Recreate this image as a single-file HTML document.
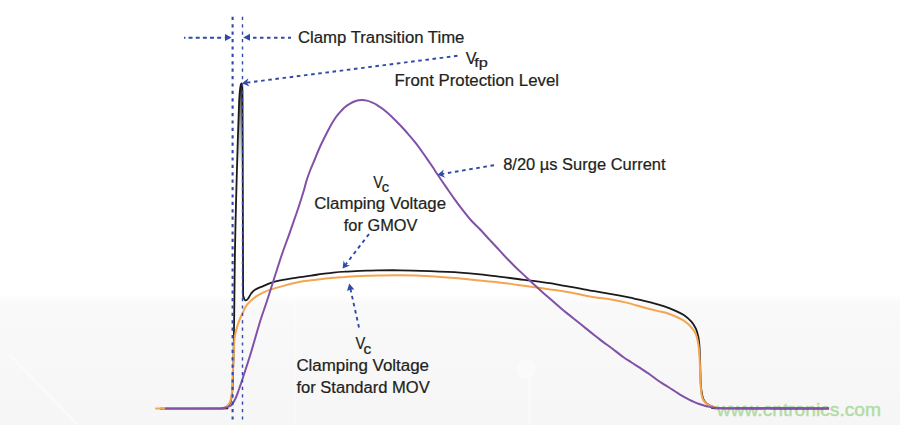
<!DOCTYPE html>
<html><head><meta charset="utf-8"><style>
html,body{margin:0;padding:0;background:#fff;}
body{width:900px;height:425px;overflow:hidden;}
svg{display:block;font-family:"Liberation Sans",sans-serif;}
</style></head><body>
<svg width="900" height="425" viewBox="0 0 900 425">
<defs><linearGradient id="bg" x1="0" y1="0" x2="0" y2="1"><stop offset="0" stop-color="#ffffff"/><stop offset="0.07" stop-color="#f9f9f9"/><stop offset="1" stop-color="#f6f6f6"/></linearGradient></defs>
<rect x="0" y="0" width="900" height="425" fill="#fff"/>
<rect x="0" y="295" width="900" height="130" fill="url(#bg)"/>
<g stroke="#ffffff" stroke-opacity="0.6" fill="none">
<line x1="9" y1="354" x2="78" y2="425" stroke-width="1.5"/>
<circle cx="526" cy="369" r="10" fill="#fafafa" stroke="none"/>
<line x1="529.5" y1="378" x2="529.5" y2="425" stroke-width="1.5"/>
<line x1="295" y1="300" x2="295" y2="425" stroke-width="1"/>
</g>
<text x="716.8" y="416.2" font-size="19.2" fill="#b2dca4" stroke="#b2dca4" stroke-width="0.45" textLength="164.2" lengthAdjust="spacingAndGlyphs">www.cntronics.com</text>
<defs><linearGradient id="spk" gradientUnits="userSpaceOnUse" x1="0" y1="84" x2="0" y2="170"><stop offset="0" stop-color="#222" stop-opacity="0.9"/><stop offset="1" stop-color="#666" stop-opacity="0"/></linearGradient></defs>
<path d="M234.9,255 L236.1,200 L237.8,140 L239.1,102 L240.2,88 L241.3,83.4 L242.1,85.5 L242.5,96 L242.7,150 L242.9,230 Z" fill="url(#spk)"/>
<path d="M160.0,408.6 C170.3,408.6 211.2,408.6 222.0,408.5 C232.8,408.4 224.0,408.4 225.0,408.0 C226.0,407.6 227.1,406.9 228.0,406.0 C228.9,405.1 229.7,403.9 230.3,402.5 C230.9,401.1 231.2,399.4 231.5,397.5 C231.8,395.6 232.1,393.9 232.3,391.0 C232.5,388.1 232.6,385.2 232.8,380.0 C233.0,374.8 233.2,366.3 233.4,360.0 C233.6,353.7 233.7,349.5 233.8,342.0 C233.9,334.5 234.0,329.5 234.2,315.0 C234.4,300.5 234.6,274.2 234.9,255.0 C235.2,235.8 235.6,219.2 236.1,200.0 C236.6,180.8 237.3,156.3 237.8,140.0 C238.3,123.7 238.7,110.7 239.1,102.0 C239.5,93.3 239.8,91.1 240.2,88.0 C240.6,84.9 241.0,84.0 241.3,83.6 C241.6,83.2 241.9,83.4 242.1,85.5 C242.3,87.6 242.4,85.2 242.5,96.0 C242.6,106.8 242.6,127.7 242.7,150.0 C242.8,172.3 242.8,206.7 242.9,230.0 C243.0,253.3 243.0,278.8 243.1,290.0 C243.2,301.2 243.2,295.3 243.6,297.0 C244.0,298.7 244.6,300.0 245.3,300.3 C246.0,300.6 247.1,299.9 248.0,298.8 C248.9,297.7 249.8,295.2 251.0,293.7 C252.2,292.2 253.0,291.0 255.0,289.7 C257.0,288.4 260.4,287.3 263.2,286.1 C266.0,284.9 268.2,283.7 271.7,282.6 C275.2,281.5 279.7,280.6 284.4,279.7 C289.1,278.8 295.6,277.9 300.0,277.2 C304.4,276.5 307.4,276.2 311.1,275.6 C314.8,275.1 318.5,274.4 322.2,273.9 C325.9,273.4 329.6,273.0 333.3,272.6 C337.0,272.2 340.7,271.9 344.4,271.7 C348.1,271.4 351.9,271.3 355.6,271.1 C359.3,270.9 363.0,270.8 366.7,270.7 C370.4,270.6 372.2,270.5 377.8,270.4 C383.4,270.3 391.3,270.2 400.0,270.3 C408.7,270.4 420.0,270.8 430.0,271.2 C440.0,271.6 451.7,272.1 460.0,272.6 C468.3,273.1 473.5,273.6 480.0,274.3 C486.5,275.0 492.5,275.8 498.8,276.6 C505.1,277.4 512.4,278.3 517.7,279.0 C523.0,279.7 525.4,279.9 530.8,280.6 C536.2,281.3 544.9,282.4 550.0,283.2 C555.1,284.0 556.8,284.5 561.5,285.3 C566.2,286.1 572.5,287.2 578.0,288.2 C583.5,289.2 589.1,290.3 594.4,291.2 C599.7,292.1 604.6,292.9 610.0,293.8 C615.4,294.7 621.0,295.7 626.5,296.8 C632.0,297.9 637.5,299.3 643.0,300.6 C648.5,301.9 655.7,303.8 659.4,304.8 C663.1,305.8 662.5,305.7 665.0,306.6 C667.5,307.5 671.3,309.0 674.4,310.4 C677.5,311.8 681.0,313.2 683.8,315.1 C686.6,317.0 689.3,319.4 691.4,321.7 C693.5,324.0 694.9,326.5 696.1,329.2 C697.3,331.9 697.9,334.7 698.5,337.7 C699.1,340.7 699.2,342.4 699.5,347.0 C699.8,351.6 700.0,358.8 700.2,365.0 C700.4,371.2 700.5,379.2 700.8,384.0 C701.1,388.8 701.4,390.9 701.9,393.5 C702.4,396.1 702.7,397.8 703.5,399.4 C704.3,401.0 705.3,402.3 706.5,403.4 C707.7,404.5 709.1,405.2 710.5,405.9 C711.9,406.6 713.1,407.0 715.0,407.4 C716.9,407.8 703.0,408.1 722.0,408.3 C741.0,408.5 811.2,408.6 829.0,408.6" fill="none" stroke="#1a1a1a" stroke-width="1.8" stroke-linejoin="round"/>
<path d="M155.3,408.4 C165.2,408.4 203.4,408.5 215.0,408.4 C226.6,408.2 222.7,408.0 224.8,407.5 C226.9,407.0 226.9,406.1 227.8,405.2 C228.7,404.3 229.5,403.2 230.1,401.9 C230.7,400.6 230.9,399.1 231.2,397.3 C231.5,395.5 231.8,394.2 232.0,391.3 C232.2,388.4 232.3,385.2 232.5,380.0 C232.7,374.8 233.1,366.3 233.4,360.0 C233.7,353.7 233.8,346.9 234.2,342.4 C234.5,337.9 234.9,335.8 235.5,333.0 C236.1,330.2 236.8,327.9 237.6,325.4 C238.4,322.9 239.4,320.1 240.3,318.0 C241.2,315.9 241.9,314.5 242.8,312.7 C243.7,310.9 244.7,308.4 245.5,307.0 C246.3,305.6 246.5,305.4 247.5,304.2 C248.5,303.0 250.2,301.3 251.7,300.0 C253.1,298.7 254.3,297.5 256.2,296.3 C258.1,295.1 260.6,293.7 263.0,292.6 C265.4,291.5 266.7,290.8 270.3,289.6 C273.9,288.4 279.4,286.9 284.4,285.6 C289.3,284.3 295.6,282.7 300.0,281.8 C304.4,280.9 307.4,280.8 311.1,280.3 C314.8,279.8 318.5,279.3 322.2,278.9 C325.9,278.5 329.6,278.1 333.3,277.8 C337.0,277.5 340.7,277.1 344.4,276.9 C348.1,276.6 351.9,276.5 355.6,276.3 C359.3,276.1 363.0,275.9 366.7,275.8 C370.4,275.7 372.2,275.6 377.8,275.5 C383.4,275.4 391.3,275.2 400.0,275.3 C408.7,275.4 420.0,275.7 430.0,276.2 C440.0,276.7 451.7,277.8 460.0,278.5 C468.3,279.2 473.5,280.0 480.0,280.6 C486.5,281.2 492.5,281.7 498.8,282.4 C505.1,283.1 511.4,284.0 517.7,284.9 C524.0,285.8 531.1,286.8 536.5,287.5 C541.9,288.2 545.8,288.8 550.0,289.4 C554.2,290.0 556.8,290.1 561.5,290.9 C566.2,291.7 572.5,292.9 578.0,294.0 C583.5,295.1 589.1,296.4 594.4,297.3 C599.7,298.2 604.6,298.3 610.0,299.2 C615.4,300.1 621.0,301.3 626.5,302.6 C632.0,303.9 637.5,305.7 643.0,307.2 C648.5,308.7 655.7,310.5 659.4,311.4 C663.1,312.3 662.5,311.7 665.0,312.5 C667.5,313.3 671.3,314.6 674.4,316.0 C677.5,317.4 681.0,318.8 683.8,320.7 C686.6,322.6 689.3,324.9 691.4,327.3 C693.5,329.7 694.9,331.8 696.1,334.8 C697.3,337.8 697.9,341.6 698.5,345.2 C699.1,348.8 699.2,352.4 699.5,356.5 C699.8,360.6 699.9,365.4 700.1,370.0 C700.3,374.6 700.4,380.4 700.6,384.4 C700.8,388.4 701.1,391.3 701.5,393.8 C701.9,396.3 702.2,397.9 703.0,399.5 C703.8,401.1 704.9,402.2 706.0,403.2 C707.1,404.2 708.4,405.0 709.8,405.6 C711.2,406.2 712.8,406.7 714.5,407.1 C716.2,407.5 716.6,407.8 720.0,408.0 C723.4,408.2 732.5,408.3 735.0,408.4" fill="none" stroke="#f5a54f" stroke-width="2" stroke-linejoin="round"/>
<path d="M165.0,408.5 C173.3,408.5 205.4,408.6 215.0,408.5 C224.6,408.4 220.6,408.3 222.5,408.1 C224.4,407.9 225.0,407.9 226.3,407.5 C227.6,407.1 229.1,406.6 230.1,406.0 C231.1,405.4 231.6,405.1 232.3,404.1 C233.1,403.2 233.8,401.8 234.6,400.3 C235.4,398.8 236.2,397.0 236.9,395.1 C237.7,393.2 238.3,391.1 239.1,389.0 C239.8,386.9 239.6,387.8 241.4,382.3 C243.2,376.8 246.8,366.1 250.0,355.8 C253.2,345.5 257.5,329.8 260.4,320.5 C263.3,311.2 263.9,310.4 267.3,300.0 C270.7,289.6 277.0,269.2 280.7,258.0 C284.4,246.8 286.7,241.4 289.7,232.8 C292.7,224.2 296.5,213.5 298.8,206.5 C301.1,199.5 302.4,195.2 303.7,191.0 C305.0,186.8 305.3,184.6 306.4,181.0 C307.5,177.4 309.1,173.1 310.5,169.5 C311.9,165.9 313.3,162.8 314.7,159.5 C316.1,156.2 317.2,153.2 318.8,149.5 C320.4,145.8 322.4,141.7 324.5,137.5 C326.6,133.3 329.4,127.9 331.3,124.5 C333.2,121.1 334.6,119.0 336.0,117.0 C337.4,115.0 338.4,114.0 339.8,112.4 C341.2,110.8 342.8,108.9 344.5,107.4 C346.2,105.9 348.2,104.7 350.1,103.6 C352.0,102.5 353.8,101.6 355.7,101.0 C357.6,100.4 359.5,100.1 361.4,100.0 C363.3,99.9 365.3,100.2 367.0,100.6 C368.7,101.0 370.1,101.6 371.7,102.3 C373.3,103.0 374.5,103.5 376.4,104.7 C378.3,105.9 380.7,107.3 383.2,109.3 C385.7,111.3 388.8,113.9 391.5,116.5 C394.2,119.1 396.9,121.8 399.7,124.7 C402.4,127.6 405.2,130.6 408.0,133.8 C410.8,137.0 413.5,140.2 416.2,143.7 C418.9,147.2 421.6,151.1 424.4,155.0 C427.1,158.9 430.5,163.8 432.7,167.0 C434.9,170.2 435.1,170.9 437.4,174.3 C439.7,177.7 443.6,183.4 446.5,187.6 C449.4,191.8 451.9,195.6 454.7,199.4 C457.4,203.2 460.2,206.9 463.0,210.4 C465.8,213.9 468.2,217.2 471.2,220.5 C474.2,223.8 477.9,227.0 480.9,230.2 C483.9,233.4 486.4,236.3 489.4,239.6 C492.4,242.8 495.7,246.3 498.8,249.7 C501.9,253.1 505.0,256.5 508.2,259.8 C511.4,263.1 514.6,266.3 517.7,269.3 C520.9,272.3 524.0,275.1 527.1,278.0 C530.2,280.9 533.4,283.9 536.5,286.8 C539.6,289.7 543.1,292.7 545.9,295.2 C548.7,297.7 550.6,299.3 553.2,301.6 C555.8,303.9 558.8,306.5 561.5,308.8 C564.2,311.1 567.0,313.2 569.7,315.4 C572.5,317.6 575.2,319.8 578.0,322.0 C580.8,324.2 583.5,326.4 586.2,328.6 C588.9,330.8 591.6,333.0 594.4,335.2 C597.1,337.4 599.7,339.3 602.7,341.6 C605.7,343.9 609.1,346.2 612.5,348.8 C615.9,351.4 620.0,354.7 623.2,357.0 C626.4,359.3 628.8,360.7 631.5,362.5 C634.2,364.3 637.0,365.8 639.7,367.6 C642.5,369.4 645.2,371.3 648.0,373.2 C650.8,375.1 653.5,377.3 656.2,379.2 C658.9,381.1 661.6,382.8 664.4,384.6 C667.1,386.4 670.2,388.2 672.7,389.8 C675.2,391.4 677.8,393.1 679.7,394.3 C681.7,395.5 682.8,396.2 684.4,397.1 C686.0,398.0 687.5,398.8 689.1,399.6 C690.7,400.4 692.2,401.1 693.8,401.8 C695.4,402.5 696.9,403.1 698.5,403.7 C700.1,404.3 701.6,404.8 703.2,405.3 C704.8,405.8 706.3,406.1 707.9,406.5 C709.5,406.9 711.0,407.3 712.6,407.5 C714.2,407.7 713.6,407.8 717.3,407.9 C721.0,408.0 716.4,408.2 735.0,408.3 C753.6,408.4 813.3,408.3 829.0,408.3" fill="none" stroke="#8150a8" stroke-width="2" stroke-linejoin="round"/>
<line x1="232.6" y1="16.8" x2="232.6" y2="421" stroke="#2f4aa8" stroke-width="2.1" stroke-dasharray="3.2 4.2"/>
<line x1="242.5" y1="16.8" x2="242.5" y2="421" stroke="#2f4aa8" stroke-width="1.4" stroke-dasharray="3.2 4.2"/>
<line x1="184" y1="37.7" x2="224.5" y2="37.7" stroke="#2f4aa8" stroke-width="1.9" stroke-dasharray="4 3.15" stroke-dashoffset="2.6"/>
<polygon points="225,34 231.6,37.5 225,41" fill="#2f4aa8"/>
<line x1="253" y1="37.7" x2="291" y2="37.7" stroke="#2f4aa8" stroke-width="1.9" stroke-dasharray="3.5 3.5"/>
<polygon points="250,33.8 243.2,37.6 250,40.8" fill="#2f4aa8"/>
<line x1="457.5" y1="55.8" x2="246.5" y2="82.7" stroke="#2f4aa8" stroke-width="1.9" stroke-dasharray="3.6 3.6"/><polygon points="242.0,83.3 249.5,86.5 246.8,82.7 248.4,78.3" fill="#2f4aa8"/>
<line x1="494.0" y1="165.2" x2="442.0" y2="174.0" stroke="#2f4aa8" stroke-width="1.9" stroke-dasharray="3.6 3.6"/><polygon points="437.6,174.8 445.2,177.7 442.3,174.0 443.8,169.6" fill="#2f4aa8"/>
<line x1="369.0" y1="234.0" x2="345.3" y2="265.0" stroke="#2f4aa8" stroke-width="1.9" stroke-dasharray="3.6 3.6"/><polygon points="342.6,268.6 350.1,265.5 345.5,264.8 343.6,260.5" fill="#2f4aa8"/>
<line x1="359.0" y1="327.5" x2="350.2" y2="287.8" stroke="#2f4aa8" stroke-width="1.9" stroke-dasharray="3.6 3.6"/><polygon points="349.2,283.4 347.0,291.1 350.5,289.5 354.4,289.4" fill="#2f4aa8"/>
<text x="298.0" y="42.5" font-size="16" fill="#231f20" stroke="#231f20" stroke-width="0.22" textLength="166.4" lengthAdjust="spacingAndGlyphs">Clamp Transition Time</text>
<text x="465.8" y="63.5" font-size="16.5" fill="#231f20" stroke="#231f20" stroke-width="0.22" textLength="10.8" lengthAdjust="spacingAndGlyphs">V</text>
<text x="474.2" y="67.2" font-size="13" fill="#231f20" stroke="#231f20" stroke-width="0.22" textLength="13.6" lengthAdjust="spacingAndGlyphs">fp</text>
<text x="394.6" y="85.6" font-size="16" fill="#231f20" stroke="#231f20" stroke-width="0.22" textLength="164.4" lengthAdjust="spacingAndGlyphs">Front Protection Level</text>
<text x="503.2" y="169.8" font-size="16" fill="#231f20" stroke="#231f20" stroke-width="0.22" textLength="162.4" lengthAdjust="spacingAndGlyphs">8/20 µs Surge Current</text>
<text x="373.2" y="187.8" font-size="16.5" fill="#231f20" stroke="#231f20" stroke-width="0.22" textLength="9.8" lengthAdjust="spacingAndGlyphs">V</text>
<text x="381.8" y="191.5" font-size="14" fill="#231f20" stroke="#231f20" stroke-width="0.22" textLength="7.4" lengthAdjust="spacingAndGlyphs">c</text>
<text x="314.2" y="208.7" font-size="16" fill="#231f20" stroke="#231f20" stroke-width="0.22" textLength="131.8" lengthAdjust="spacingAndGlyphs">Clamping Voltage</text>
<text x="343.8" y="230.6" font-size="16" fill="#231f20" stroke="#231f20" stroke-width="0.22" textLength="73.6" lengthAdjust="spacingAndGlyphs">for GMOV</text>
<text x="355.4" y="349.3" font-size="16" fill="#231f20" stroke="#231f20" stroke-width="0.22" textLength="9.8" lengthAdjust="spacingAndGlyphs">V</text>
<text x="363.4" y="353.8" font-size="14" fill="#231f20" stroke="#231f20" stroke-width="0.22" textLength="7.8" lengthAdjust="spacingAndGlyphs">c</text>
<text x="296.4" y="371.3" font-size="16" fill="#231f20" stroke="#231f20" stroke-width="0.22" textLength="132.6" lengthAdjust="spacingAndGlyphs">Clamping Voltage</text>
<text x="296.4" y="393.3" font-size="16" fill="#231f20" stroke="#231f20" stroke-width="0.22" textLength="133.4" lengthAdjust="spacingAndGlyphs">for Standard MOV</text>
</svg>
</body></html>
